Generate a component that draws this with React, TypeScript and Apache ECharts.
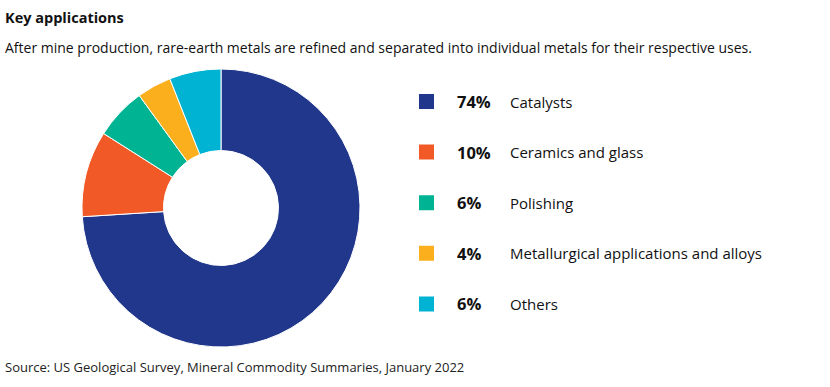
import React, { useEffect, useRef } from "react";
import * as echarts from "echarts";

const categories = ["Catalysts", "Ceramics and glass", "Polishing", "Metallurgical applications and alloys", "Others"];
const shares = [74, 10, 6, 4, 6];
const colors = ["#21378B", "#F15A27", "#00B393", "#FBAF1D", "#00B3D3"];

const titleText = "Key applications";
const subtitleText = "After mine production, rare-earth metals are refined and separated into individual metals for their respective uses.";
const sourceText = "Source: US Geological Survey, Mineral Commodity Summaries, January 2022";

const FONT = "'Open Sans', 'Noto Sans', sans-serif";

export default function App() {
  const ref = useRef<HTMLDivElement>(null);
  useEffect(() => {
    if (!ref.current) return;
    const chart = echarts.init(ref.current, null, { renderer: "svg" });
    const data = categories.map((name, i) => ({ name, value: shares[i], itemStyle: { color: colors[i] } }));
    chart.setOption({
      animation: false,
      backgroundColor: "#ffffff",
      graphic: [
        { type: "text", x: 5, y: 17, style: { text: titleText, font: `bold 14.5px ${FONT}`, fill: "#111", verticalAlign: "middle" } },
        { type: "text", x: 5, y: 47, style: { text: subtitleText, font: `14px ${FONT}`, fill: "#111", verticalAlign: "middle" } },
        { type: "text", x: 5, y: 367, style: { text: sourceText, font: `13px ${FONT}`, fill: "#222", verticalAlign: "middle" } },
      ],
      legend: {
        orient: "vertical",
        left: 417,
        top: 92,
        padding: 0,
        itemWidth: 17,
        itemHeight: 17,
        itemGap: 31.6,
        icon: "rect",
        selectedMode: false,
        data: categories,
        formatter: (name: string) => {
          const i = categories.indexOf(name);
          return `{p|${shares[i]}%}{n|${name}}`;
        },
        textStyle: {
          rich: {
            p: { fontFamily: FONT, fontSize: 16.5, fontWeight: "bold", color: "#111", width: 53, lineHeight: 20, padding: [0, 0, 0, 17] },
            n: { fontFamily: FONT, fontSize: 15, color: "#111", lineHeight: 20 },
          },
        },
      },
      series: [
        {
          type: "pie",
          center: [221, 208],
          radius: [57.5, 139],
          startAngle: 90,
          clockwise: true,
          label: { show: false },
          labelLine: { show: false },
          emphasis: { disabled: true },
          itemStyle: { borderColor: "#ffffff", borderWidth: 1 },
          data,
        },
      ],
    });
    return () => chart.dispose();
  }, []);
  return <div ref={ref} style={{ position: "fixed", left: 0, top: 0, width: 830, height: 387 }} />;
}
